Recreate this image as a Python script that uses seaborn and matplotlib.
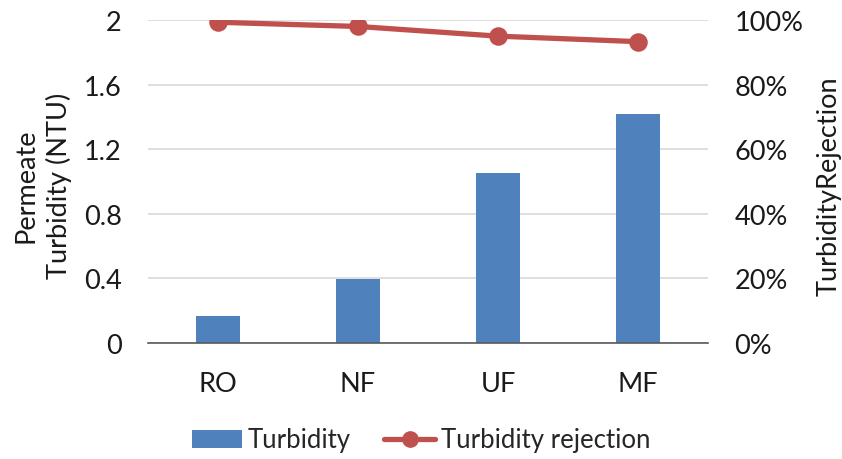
import matplotlib
matplotlib.use("Agg")
import matplotlib.pyplot as plt
import seaborn as sns
import numpy as np
from matplotlib.ticker import FuncFormatter
from matplotlib.lines import Line2D
from matplotlib.patches import Patch

categories = ["RO", "NF", "UF", "MF"]
turbidity = [0.167, 0.396, 1.05, 1.42]
rejection = [99.3, 98.0, 95.0, 93.3]

sns.set_theme(style="white")
plt.rcParams['font.family'] = ['Lato', 'DejaVu Sans']

bar_color = "#4F81BD"
line_color = "#C0504D"
FS = 19.5
TXT = "#1a1a1a"

fig = plt.figure(figsize=(8.42, 4.6), dpi=100)
ax = fig.add_axes([148/842, 1-344/460, 560/842, 323/460])

sns.barplot(x=categories, y=turbidity, ax=ax, color=bar_color, width=0.31,
            saturation=1, edgecolor="none")
ax.set_ylim(0, 2)
ax.set_yticks(np.arange(0, 2.01, 0.4))
ax.yaxis.set_major_formatter(FuncFormatter(lambda v, p: "0" if abs(v) < 1e-9 else ("2" if abs(v-2) < 1e-9 else f"{v:.1f}")))
ax.grid(axis="y", color="#D9D9D9", linewidth=1.2)
ax.set_axisbelow(True)
for s in ["left", "right", "top"]:
    ax.spines[s].set_visible(False)
ax.spines["bottom"].set_color("#595959")
ax.spines["bottom"].set_linewidth(1.2)
ax.tick_params(axis="both", length=0, labelsize=FS, colors=TXT)
ax.tick_params(axis="y", pad=19)
ax.tick_params(axis="x", pad=20)
ax.set_xlim(-0.5, 3.5)
ax.set_ylabel("Permeate\nTurbidity (NTU)", fontsize=FS, color=TXT, linespacing=1.35)
ax.yaxis.set_label_coords((72-148)/560, 0.49)
ax.set_xlabel("")

ax2 = ax.twinx()
sns.pointplot(x=categories, y=rejection, ax=ax2, color=line_color,
              markers="o", linewidth=3.8, markersize=10.5)
ax2.set_ylim(0, 100)
ax2.set_yticks(np.arange(0, 101, 20))
ax2.yaxis.set_major_formatter(FuncFormatter(lambda v, p: f"{v:.0f}%"))
for s in ["left", "right", "top", "bottom"]:
    ax2.spines[s].set_visible(False)
ax2.tick_params(axis="y", length=0, labelsize=FS, colors=TXT, pad=19)
ax2.set_ylabel("TurbidityRejection", fontsize=FS, color=TXT)
ax2.yaxis.set_label_coords((817-148)/560, 0.49)
ax2.set_xlim(-0.5, 3.5)
ax2.grid(False)

handles = [Patch(facecolor=bar_color, edgecolor="none"),
           Line2D([0], [0], color=line_color, linewidth=3.8, marker="o", markersize=11)]
fig.legend(handles, ["Turbidity", "Turbidity rejection"], loc="center",
           bbox_to_anchor=(0.5, 1-441/460), ncol=2, frameon=False, fontsize=18.5,
           handlelength=1.95, columnspacing=1.3, handletextpad=0.25,
           borderpad=0, borderaxespad=0)

fig.savefig("out.png", dpi=100)
